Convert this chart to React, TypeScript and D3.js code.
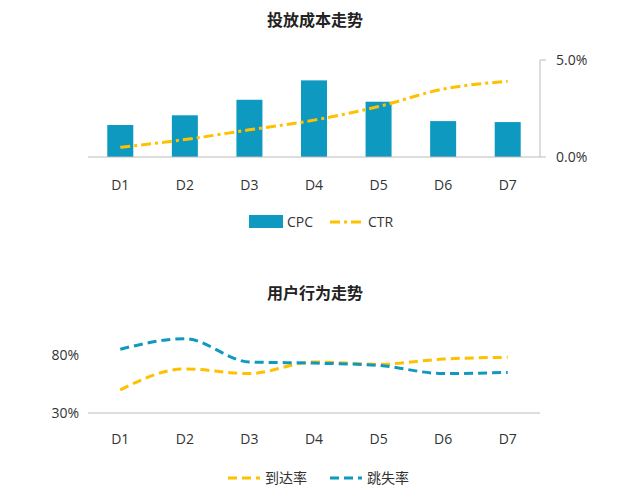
import React from "react";
import * as d3 from "d3";

const categories = ["D1", "D2", "D3", "D4", "D5", "D6", "D7"];
const cpc = [1.65, 2.15, 2.95, 3.95, 2.85, 1.85, 1.8];
const ctr = [0.5, 0.9, 1.4, 1.9, 2.6, 3.5, 3.9];
const arrival = [50, 68, 64, 74, 72, 76.5, 78];
const bounce = [85, 94, 74, 73, 71, 64, 65];
const ctrTicks = [0, 5];
const behaviorTicks = [30, 80];

const BLUE = "#0E9AC0";
const YELLOW = "#FFC000";
const FONT = "'Open Sans', 'Noto Sans CJK SC', sans-serif";

const App: React.FC = () => {
  const x = d3.scaleBand().domain(categories).range([88, 540]).paddingInner(0.6).paddingOuter(0.3);
  const cx = (c: string) => (x(c) as number) + x.bandwidth() / 2;

  const yBar = d3.scaleLinear().domain([0, 5]).range([157, 60]);
  const yCtr = d3.scaleLinear().domain([0, 5]).range([157, 60]);
  const yB = d3.scaleLinear().domain([30, 80]).range([413, 355]);

  const smooth = d3.line<number>().x((_, i) => cx(categories[i])).curve(d3.curveMonotoneX);
  const ctrPath = smooth.y((d) => yCtr(d))(ctr) as string;
  const lineB = d3.line<number>().x((_, i) => cx(categories[i])).y((d) => yB(d)).curve(d3.curveMonotoneX);

  return (
    <svg width={630} height={502} style={{ position: "absolute", left: 0, top: 0 }} fontFamily={FONT}>
      <text x={315} y={26} textAnchor="middle" fontSize={16} fontWeight="bold" fill="#222">投放成本走势</text>
      {cpc.map((v, i) => (
        <rect key={i} x={cx(categories[i]) - 13} width={26} y={yBar(v)} height={157 - yBar(v)} fill={BLUE} />
      ))}
      <line x1={88} x2={540} y1={157} y2={157} stroke="#bbb" />
      <line x1={540} x2={540} y1={60} y2={157} stroke="#bbb" />
      {ctrTicks.map((t) => (
        <g key={t}>
          <line x1={540} x2={546} y1={yCtr(t)} y2={yCtr(t)} stroke="#bbb" />
          <text x={556} y={yCtr(t) + 5} fontSize={14} fill="#333">{t.toFixed(1)}%</text>
        </g>
      ))}
      <path d={ctrPath} fill="none" stroke={YELLOW} strokeWidth={3} strokeDasharray="10 4 3 4" />
      {categories.map((c) => (
        <text key={c} x={cx(c)} y={190} textAnchor="middle" fontSize={14} fill="#333">{c}</text>
      ))}
      <rect x={249} y={215} width={34} height={13} fill={BLUE} />
      <text x={287} y={227} fontSize={14} fill="#333">CPC</text>
      <line x1={330} x2={362} y1={222} y2={222} stroke={YELLOW} strokeWidth={3} strokeDasharray="10 4 3 4" />
      <text x={368} y={227} fontSize={14} fill="#333">CTR</text>

      <text x={315} y={299} textAnchor="middle" fontSize={16} fontWeight="bold" fill="#222">用户行为走势</text>
      <line x1={88} x2={540} y1={413} y2={413} stroke="#bbb" />
      {behaviorTicks.map((t) => (
        <text key={t} x={79} y={yB(t) + 5} textAnchor="end" fontSize={14} fill="#333">{t}%</text>
      ))}
      <path d={lineB(arrival) as string} fill="none" stroke={YELLOW} strokeWidth={3} strokeDasharray="9 5" />
      <path d={lineB(bounce) as string} fill="none" stroke={BLUE} strokeWidth={3} strokeDasharray="9 5" />
      {categories.map((c) => (
        <text key={c} x={cx(c)} y={444} textAnchor="middle" fontSize={14} fill="#333">{c}</text>
      ))}
      <line x1={228} x2={260} y1={478} y2={478} stroke={YELLOW} strokeWidth={3} strokeDasharray="9 5" />
      <text x={265} y={483} fontSize={14} fill="#333">到达率</text>
      <line x1={330} x2={362} y1={478} y2={478} stroke={BLUE} strokeWidth={3} strokeDasharray="9 5" />
      <text x={367} y={483} fontSize={14} fill="#333">跳失率</text>
    </svg>
  );
};

export default App;
